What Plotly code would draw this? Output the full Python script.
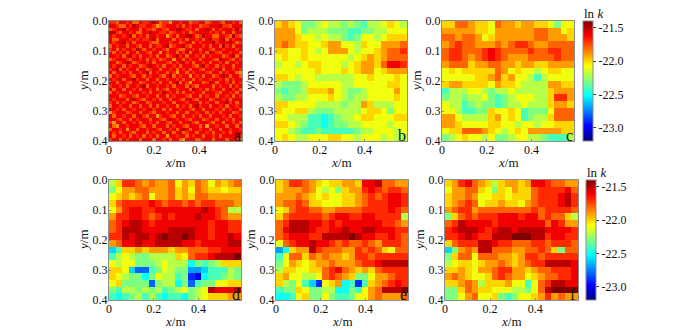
import numpy as np
import plotly.graph_objects as go

# values: tenths below -20, so 17 means ln k = -21.7
panel_a = [
[17,17,18,16,16,17,16,18,18,16,17,17,16,15,16,18,17,17,19,16,16,17,16,16,18,17,17,16,16,18,17,16,16,17,18,16,16,17,16,18],
[16,16,17,18,18,16,17,15,16,17,17,16,16,17,19,18,17,16,16,16,17,16,18,16,17,16,16,18,17,17,16,16,16,15,17,17,18,16,16,16],
[18,17,16,16,15,17,16,16,16,18,16,17,17,18,16,16,17,18,16,16,15,15,16,17,17,16,18,16,16,15,16,18,16,17,16,16,16,17,15,17],
[15,15,17,18,16,16,17,16,18,18,16,16,15,16,16,17,17,16,18,17,16,16,17,16,18,17,16,16,16,16,17,16,17,16,18,16,16,18,16,16],
[16,17,16,16,17,16,15,18,16,17,16,18,16,16,17,16,16,19,17,16,18,16,16,15,15,16,18,17,15,16,16,18,18,16,16,17,18,15,17,18],
[16,18,18,16,16,16,17,16,17,16,17,17,16,15,18,16,16,16,16,18,16,17,16,18,16,16,17,16,18,16,15,17,17,16,15,18,16,17,16,16],
[16,17,16,16,15,17,16,18,16,16,16,16,17,18,18,16,16,16,17,16,16,18,17,16,16,18,16,17,16,16,16,15,17,16,16,16,15,16,18,17],
[18,16,17,16,16,18,16,16,17,18,16,16,18,16,17,17,16,15,18,17,16,16,15,17,18,16,16,16,17,16,18,16,16,18,15,17,16,18,16,16],
[17,16,18,16,17,16,16,17,15,16,18,16,16,17,16,16,17,18,16,16,17,18,18,16,16,17,16,18,16,16,17,18,16,16,17,16,16,16,17,16],
[16,18,16,17,16,18,16,16,18,16,16,17,18,16,16,19,16,17,16,16,18,16,17,15,18,16,16,17,16,18,15,16,17,18,16,16,17,16,16,18],
[16,16,17,16,18,16,15,17,16,18,16,16,17,16,18,16,16,18,17,16,15,17,16,18,16,16,17,16,18,16,17,16,16,16,18,17,16,15,18,16],
[18,17,16,16,16,17,18,16,16,17,16,18,16,17,16,18,17,16,16,19,16,16,18,16,17,16,16,18,16,16,16,17,18,15,16,16,17,18,16,17],
[16,16,18,17,16,15,16,18,17,16,16,17,16,18,16,16,16,17,18,16,17,16,15,17,16,18,16,16,17,16,18,16,16,17,16,18,16,16,17,16],
[16,17,16,16,18,16,17,16,16,18,17,16,15,16,17,16,18,16,16,17,16,18,16,16,16,17,18,16,15,17,16,16,18,16,17,16,16,18,16,16],
[17,16,15,18,16,17,16,16,18,16,16,18,17,16,16,18,16,16,17,16,18,16,17,16,18,16,16,17,18,16,16,17,16,15,18,16,16,17,16,17],
[16,18,16,16,17,16,18,16,16,17,16,15,18,16,17,16,16,18,16,17,19,16,16,18,16,17,16,16,16,17,18,16,16,18,16,17,16,16,18,19],
[18,16,17,16,16,16,17,18,16,16,18,16,17,16,16,17,18,16,15,18,16,17,16,16,19,16,17,16,18,16,16,18,17,16,15,16,18,16,16,18],
[16,17,16,16,18,16,16,15,17,16,16,18,16,16,18,16,16,17,16,16,17,16,18,16,16,18,16,17,16,16,17,16,16,17,16,18,16,17,16,16],
[16,16,18,16,16,17,18,16,16,18,17,16,16,17,16,18,16,16,18,16,15,18,16,17,19,16,16,16,18,17,15,16,18,16,16,17,16,18,16,17],
[17,16,16,17,16,18,16,16,17,16,15,18,16,16,17,16,16,17,16,18,16,16,16,18,16,17,18,16,16,16,16,18,16,17,16,16,18,16,17,16],
[16,18,16,16,18,16,16,17,16,18,16,16,17,16,18,16,17,18,16,16,17,16,16,16,18,15,16,17,16,18,16,17,16,16,18,16,15,17,16,18],
[18,16,17,16,16,16,18,16,16,16,17,16,18,16,16,17,15,16,17,16,18,16,18,16,16,17,16,16,18,16,16,16,17,18,16,16,17,16,18,16],
[16,16,16,18,17,16,16,17,18,16,16,17,16,16,18,16,16,18,16,17,16,16,16,17,18,16,16,18,16,17,16,16,18,16,16,17,16,18,16,17],
[16,17,16,16,16,18,16,15,16,17,18,16,16,17,16,18,16,16,18,16,16,17,18,16,15,17,18,16,16,16,18,17,16,16,17,16,18,16,16,16],
[17,16,18,16,17,16,16,18,17,16,16,18,17,16,16,16,17,16,16,18,16,16,16,17,16,16,16,18,16,17,16,16,18,16,16,15,17,16,18,16],
[18,16,16,17,16,16,18,16,16,18,16,16,18,16,18,16,16,17,16,16,18,16,17,16,18,16,15,17,16,16,18,16,16,17,16,18,16,16,17,16],
[16,16,17,16,18,16,16,17,16,16,17,16,15,17,16,16,18,16,18,16,16,17,16,16,17,18,16,16,18,16,16,16,17,16,18,16,17,16,16,18],
[19,17,16,16,16,18,17,16,16,18,16,16,17,18,16,16,16,17,16,16,18,16,16,18,16,16,17,16,16,18,16,17,16,18,16,16,16,18,17,16],
[16,18,16,16,17,16,16,18,16,15,17,18,16,16,19,17,16,16,17,18,16,16,18,16,16,17,16,18,16,16,18,16,16,16,17,16,18,16,16,17],
[16,16,17,18,16,16,18,16,17,16,16,16,18,16,16,17,18,16,15,16,17,16,16,17,18,16,16,16,18,17,16,16,18,16,16,17,16,18,16,16],
[17,19,16,16,18,16,16,17,16,18,16,16,17,16,18,16,16,17,18,16,16,18,16,16,16,17,18,16,16,16,17,18,16,16,18,16,16,17,16,18],
[16,18,19,16,16,17,16,16,16,17,18,16,16,18,16,16,16,18,16,17,16,16,17,18,16,16,16,18,16,19,16,16,17,16,16,18,16,16,18,16],
[18,16,16,17,16,19,16,16,18,16,16,17,16,16,17,18,16,16,17,16,18,16,15,16,18,16,16,17,16,16,18,16,16,18,16,16,17,16,16,17],
[16,17,16,18,16,16,17,18,16,16,16,18,16,17,16,16,18,16,16,18,16,16,18,17,16,16,18,16,16,17,16,18,16,16,17,16,18,16,16,16],
[16,18,16,16,17,16,18,16,17,16,18,16,17,16,18,16,16,19,16,16,17,16,16,18,16,17,16,16,18,16,16,17,16,18,16,16,16,16,15,17],
[17,16,16,18,16,17,16,16,16,18,16,16,16,18,16,16,17,16,18,16,16,18,19,16,16,16,18,17,16,16,16,18,16,16,16,18,16,16,17,18],
]
panel_b = [
[20,19,20,21,23,23,22,21,22,22,23,22,23,24,22,22,21,20,21,22],
[19,19,19,21,23,22,22,22,23,23,23,24,24,23,23,22,22,21,21,21],
[19,19,19,20,21,21,22,21,22,22,23,24,23,21,21,22,21,20,20,20],
[19,18,19,20,20,21,21,20,19,19,21,21,22,20,21,21,19,19,19,18],
[20,20,21,21,20,21,22,21,19,19,19,21,22,21,21,20,19,18,18,17],
[21,20,21,21,20,21,21,21,21,21,21,22,21,20,19,20,19,18,18,18],
[22,21,21,22,21,20,20,21,21,21,22,21,20,19,19,20,18,16,16,17],
[21,21,21,21,21,21,20,21,21,21,20,21,20,19,19,21,20,19,19,19],
[20,20,21,22,21,21,22,22,22,22,22,22,21,21,20,21,21,21,20,21],
[22,23,23,23,22,21,21,21,21,21,22,22,21,21,21,21,21,20,20,21],
[23,24,23,23,22,20,20,20,19,21,22,23,23,22,21,21,21,21,19,21],
[22,23,23,22,22,21,21,21,20,21,22,23,22,22,21,21,21,21,20,21],
[20,20,21,21,21,21,22,22,22,22,23,22,22,19,20,22,22,22,21,21],
[20,21,21,20,20,22,23,23,23,22,22,22,22,21,20,20,21,23,21,21],
[21,21,22,22,22,24,24,25,24,23,22,22,21,20,20,21,21,21,20,20],
[20,20,21,22,23,24,24,25,24,23,23,22,22,21,21,21,21,22,21,21],
[21,21,22,23,24,24,23,24,24,24,24,24,23,22,22,21,21,21,22,21],
[21,20,21,22,22,21,21,21,20,20,21,21,22,21,21,21,22,21,22,22],
]
panel_c = [
[20,20,18,18,19,20,20,21,18,19,19,20,19,19,20,20,21,23,21,21],
[19,19,19,19,19,20,20,21,19,19,19,19,19,19,18,18,19,19,21,20],
[18,18,19,18,18,19,21,20,19,19,19,19,19,19,18,18,19,19,19,20],
[19,18,17,18,18,19,19,19,18,19,18,17,17,18,19,19,18,18,18,18],
[18,17,17,18,18,18,17,16,17,18,18,18,18,17,18,18,17,17,18,18],
[18,17,17,18,19,18,17,16,17,18,19,19,19,18,18,18,18,17,18,18],
[19,18,18,18,20,19,19,18,18,19,19,20,19,19,20,20,19,19,19,19],
[21,20,21,20,20,20,20,20,18,19,21,20,21,21,22,21,20,20,21,21],
[21,21,21,21,21,20,20,19,18,20,19,21,21,22,24,22,21,21,21,21],
[20,19,19,20,20,20,20,21,19,20,20,21,22,22,22,22,19,19,20,20],
[24,22,22,22,21,21,22,23,22,22,21,22,22,22,22,22,20,19,19,19],
[23,22,22,23,22,22,21,23,24,23,22,21,21,21,22,22,20,17,17,19],
[21,22,22,24,23,22,23,23,24,23,22,22,21,22,22,22,20,19,19,20],
[21,21,22,24,24,23,23,20,21,21,20,21,24,23,23,23,21,18,18,18],
[19,19,21,22,22,22,22,20,19,21,20,21,24,23,22,22,20,18,18,18],
[19,19,20,21,21,21,21,20,20,21,21,22,21,21,22,21,21,20,20,20],
[21,20,20,18,18,18,19,20,21,22,21,20,21,19,19,19,19,19,20,20],
[23,22,21,20,21,21,22,21,23,23,22,21,21,22,22,23,24,24,24,22],
]
panel_d = [
[22,20,17,17,18,19,18,19,19,18,21,19,20,18,19,21,19,20,19,18],
[23,21,19,19,18,18,19,19,19,18,20,19,21,18,19,20,20,21,20,20],
[21,20,19,20,19,18,21,19,19,18,20,19,20,18,18,19,19,19,19,19],
[20,18,17,17,17,17,16,17,18,17,17,18,17,18,17,17,18,18,18,19],
[21,19,17,16,16,17,17,16,16,16,16,16,16,16,15,16,17,18,22,22],
[19,17,17,16,16,17,18,17,16,17,16,16,16,15,16,16,17,18,19,19],
[18,17,16,15,15,16,17,16,16,16,16,16,16,16,16,17,16,16,17,17],
[18,17,15,15,15,16,16,16,16,15,15,15,15,16,16,17,16,16,17,17],
[17,17,15,16,15,15,16,15,14,15,15,14,15,16,16,17,16,16,15,16],
[19,18,16,16,15,16,16,15,15,15,15,16,16,17,16,16,16,16,15,15],
[26,24,20,20,19,20,19,19,19,20,19,19,18,18,18,17,17,16,16,16],
[24,22,21,22,23,23,22,22,22,22,20,21,18,17,17,16,15,15,15,14],
[21,22,21,21,23,23,23,22,21,22,22,22,25,23,24,23,22,20,20,20],
[20,20,21,26,28,28,24,23,21,22,23,23,27,27,26,24,24,24,22,23],
[20,21,22,23,23,25,23,21,22,22,24,23,29,30,25,24,24,23,22,23],
[21,20,23,23,23,23,28,23,22,22,25,23,28,24,23,23,21,21,20,20],
[23,24,22,22,23,22,23,22,24,23,22,21,23,22,21,15,16,16,16,15],
[24,25,24,23,22,24,22,24,25,24,24,25,23,22,21,20,20,20,19,19],
]
panel_e = [
[20,19,17,17,18,19,20,21,20,20,19,19,20,16,16,15,18,18,19,19],
[20,19,19,19,18,19,21,22,21,23,20,19,19,17,16,17,18,17,17,18],
[19,19,19,18,19,20,21,20,21,21,20,20,19,18,17,18,17,16,16,17],
[19,18,18,17,18,20,20,21,21,21,20,20,19,18,17,17,17,16,16,17],
[21,20,18,17,17,18,18,19,19,18,18,18,18,17,17,17,17,16,17,18],
[20,18,17,17,17,17,17,18,17,16,16,17,17,16,16,17,17,17,17,22],
[18,17,15,15,15,16,16,17,16,17,16,16,16,16,16,16,17,17,18,19],
[18,16,15,15,15,16,17,17,16,16,15,16,16,15,15,16,16,16,17,17],
[18,17,16,16,16,17,17,15,15,15,15,14,15,16,16,17,17,16,17,18],
[21,18,17,16,16,15,16,16,17,18,17,18,18,17,18,19,17,17,17,18],
[27,25,20,19,19,15,17,18,18,18,19,19,17,18,17,18,20,21,18,18],
[24,21,18,18,20,18,19,18,19,19,20,19,17,17,18,17,17,17,17,17],
[23,21,19,20,21,20,19,19,18,19,19,19,18,17,17,16,15,15,15,15],
[22,20,20,21,21,20,20,18,17,16,18,19,20,19,20,18,17,17,17,17],
[20,19,21,21,22,22,21,18,17,18,19,20,23,23,21,19,19,18,17,17],
[20,22,23,21,24,26,29,21,20,19,25,24,29,24,20,19,18,17,16,17],
[24,23,23,20,21,23,23,22,22,25,25,23,24,21,19,18,15,15,15,14],
[25,25,24,21,20,23,23,21,23,24,24,23,21,21,19,18,19,19,19,18],
]
panel_f = [
[20,19,17,16,18,19,20,22,20,19,19,20,19,16,16,17,18,18,19,19],
[21,19,19,18,18,20,21,23,20,21,19,20,20,18,17,17,17,17,16,18],
[20,19,19,18,19,21,21,20,20,21,20,20,20,18,17,17,17,16,15,17],
[20,19,18,17,18,21,20,20,19,20,20,21,19,18,17,17,17,16,15,17],
[19,18,17,17,19,18,18,18,18,18,18,18,18,17,18,17,17,17,17,18],
[23,20,18,17,18,17,17,17,16,16,16,17,16,16,18,17,18,18,20,22],
[18,17,15,16,16,16,16,17,16,16,16,16,16,16,16,18,16,17,19,19],
[17,16,15,15,15,16,17,16,15,15,16,15,15,15,15,16,16,16,16,17],
[17,17,16,15,16,17,17,15,15,15,14,14,14,15,15,17,16,16,17,17],
[20,18,17,17,17,15,15,16,17,17,18,18,18,17,17,18,17,17,17,18],
[26,23,19,18,19,15,15,18,18,18,19,19,18,18,17,18,20,23,18,18],
[23,20,18,18,21,18,18,18,19,19,20,19,17,17,18,17,17,17,17,17],
[22,21,20,20,21,20,19,19,18,19,20,19,18,17,17,15,15,15,15,16],
[20,20,19,20,21,19,19,18,17,17,19,19,20,19,18,18,17,17,17,16],
[19,18,19,20,21,21,20,18,17,18,19,19,21,20,19,18,18,17,17,16],
[20,20,19,18,19,22,20,20,20,19,21,21,24,21,18,17,15,15,16,16],
[23,23,20,18,19,20,20,21,21,21,22,22,23,21,18,15,14,14,14,14],
[23,23,21,19,18,21,21,20,23,24,23,21,21,20,19,17,19,18,19,19],
]
panel_letters = ["a", "b", "c", "d", "e", "f"]
panels = [panel_a, panel_b, panel_c, panel_d, panel_e, panel_f]
cbar_ticks = [-21.5, -22.0, -22.5, -23.0]
x_ticks = [0, 0.2, 0.4]
y_ticks = [0.0, 0.1, 0.2, 0.3, 0.4]

W, H = 700, 330
boxes = [(109, 242, 21, 141), (275, 407, 21, 141), (442, 574, 21, 141),
         (109, 241, 180, 300), (276, 408, 180, 300), (445, 578, 180, 300)]
XMAX, YMAX = 0.59, 0.4
CMIN, CMAX = -23.2, -21.4
FONT = "Liberation Serif"
GRAY = "#8c8c8c"
INK = "#111111"

jet = [[0, "#00007f"], [0.125, "#0000ff"], [0.375, "#00ffff"],
       [0.5, "#7fff7f"], [0.625, "#ffff00"], [0.875, "#ff0000"], [1, "#7f0000"]]


def note(px, py, text, size=13, angle=0):
    return dict(xref="paper", yref="paper", x=px / W, y=1 - py / H, text=text, showarrow=False,
                xanchor="center", yanchor="middle", textangle=angle,
                font=dict(family=FONT, size=size, color=INK))


fig = go.Figure()
annotations = []
for i, (panel, box) in enumerate(zip(panels, boxes)):
    l, r, t, b = box
    z = -20 - np.array(panel) / 10
    ny, nx = z.shape
    xs = (np.arange(nx) + 0.5) / nx * XMAX
    ys = (np.arange(ny) + 0.5) / ny * YMAX
    n = i + 1
    kw = dict(z=z, x=xs, y=ys, xaxis=f"x{n}", yaxis=f"y{n}", colorscale=jet,
              zmin=CMIN, zmax=CMAX, zsmooth=False, showscale=False)
    if i in (2, 5):
        bar_l = 583 if i == 2 else 586
        kw["showscale"] = True
        kw["colorbar"] = dict(
            x=bar_l / W, xanchor="left", y=1 - t / H, yanchor="top",
            len=b - t, lenmode="pixels", thickness=10, thicknessmode="pixels",
            xpad=0, ypad=0, outlinecolor=GRAY, outlinewidth=1,
            tickvals=cbar_ticks, ticktext=[f"{v:.1f}" for v in cbar_ticks],
            ticks="outside", ticklen=3, tickcolor="#333333",
            tickfont=dict(family=FONT, size=12, color=INK))
        annotations.append(note(bar_l + 10, t - 8, "ln <i>k</i>"))
    fig.add_trace(go.Heatmap(**kw))
    axis = dict(showgrid=False, zeroline=False, showline=True, linecolor=GRAY, linewidth=1, mirror=True,
                ticks="inside", ticklen=2, tickcolor=GRAY,
                tickfont=dict(family=FONT, size=12, color=INK))
    fig.layout[f"xaxis{n}"] = dict(axis, domain=[l / W, r / W], range=[0, XMAX], anchor=f"y{n}",
                                   tickvals=x_ticks, ticktext=["0", "0.2", "0.4"], ticklabelstandoff=-2)
    fig.layout[f"yaxis{n}"] = dict(axis, domain=[1 - b / H, 1 - t / H], range=[YMAX, 0], anchor=f"x{n}",
                                   tickvals=y_ticks, ticktext=[f"{v:.1f}" for v in y_ticks], ticklabelstandoff=-2)
    annotations.append(note((l + r) / 2, b + 21, "<i>x</i>/m"))
    annotations.append(note(l - 26, (t + b) / 2, "<i>y</i>/m", angle=-90))
    annotations.append(note(r - 5, b - 6, panel_letters[i], size=16))

fig.update_layout(width=W, height=H, margin=dict(l=0, r=0, t=0, b=0, autoexpand=False), autosize=False,
                  paper_bgcolor="white", plot_bgcolor="white", annotations=annotations)
fig.write_html("out.html", post_script="document.body.style.margin='0';",
               config={"displayModeBar": False})
